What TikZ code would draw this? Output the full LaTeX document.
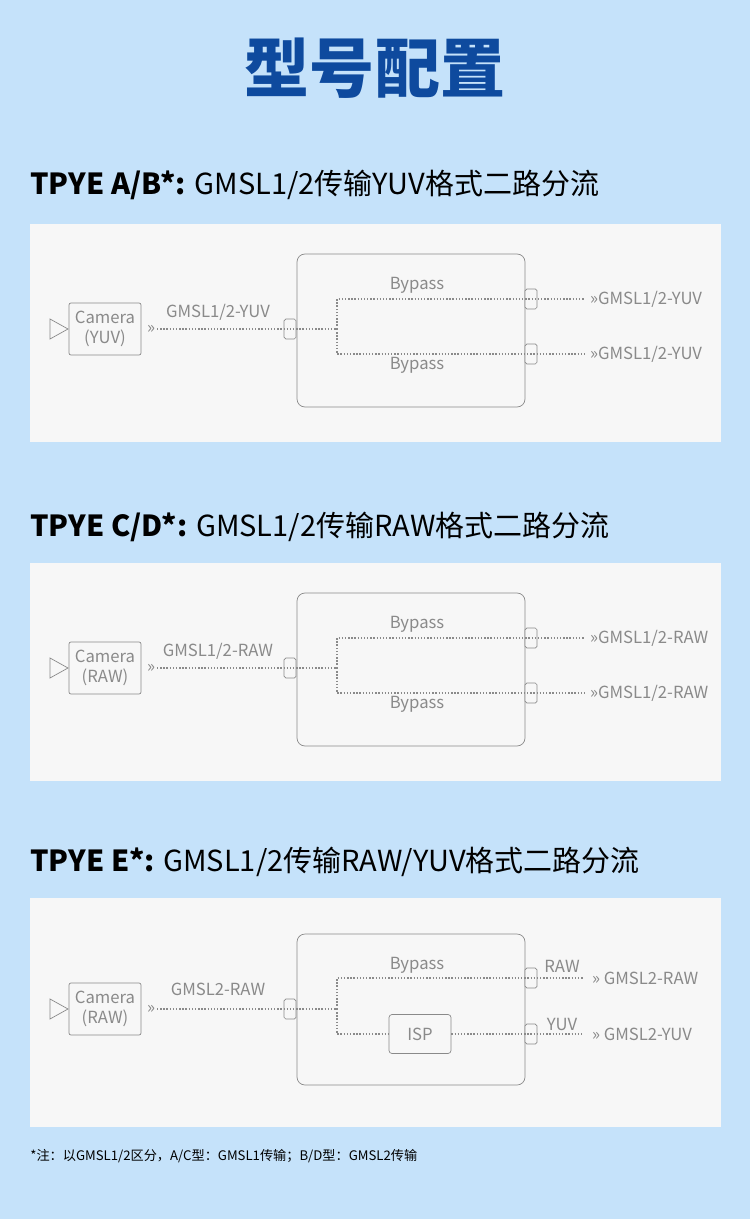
\documentclass[tikz,border=0pt]{standalone}
\usepackage{fontspec}
\setmainfont{Noto Sans CJK SC}
\usetikzlibrary{positioning}
\definecolor{bgblue}{HTML}{C5E2FA}
\definecolor{titleblue}{HTML}{0E4A9E}
\definecolor{panelgray}{HTML}{F7F7F7}
\definecolor{linegray}{HTML}{8A8A8A}
\tikzset{
  lbl/.style={text=linegray,font=\fontsize{9.5}{11}\selectfont,inner sep=1pt},
  sig/.style={draw=linegray,densely dotted,thick},
  port/.style={draw=linegray,fill=panelgray,rounded corners=1pt,minimum width=12\pxu,minimum height=20\pxu,inner sep=0pt},
  head/.style={anchor=west,font=\fontsize{16.5}{20}\selectfont,inner sep=0pt}
}
\newlength\pxu \setlength\pxu{0.02cm}
% one panel: y offset, camera text, input label, labels of the two outputs
\newcommand\splitpanel[5]{%
\begin{scope}[shift={(0,#1)}]
  \fill[panelgray] (30,220) rectangle (721,438);
  \draw[linegray,rounded corners=8\pxu] (297,250) rectangle (525,403);
  \node[draw=linegray,rounded corners=2\pxu,minimum width=72\pxu,minimum height=52\pxu,inner sep=0pt,align=center,lbl,font=\fontsize{9.5}{11}\selectfont] (cam#1) at (105,325) {Camera\\(#2)};
  \draw[linegray] (68,325) -- (50,315) -- (50,335) -- cycle;
  \node[port] (in#1) at (290,325) {};
  \node[port] (outa#1) at (531,295) {};
  \node[port] (outb#1) at (531,350) {};
  \coordinate (br#1) at (337,325);
  \coordinate (ea#1) at (585,295);
  \coordinate (eb#1) at (585,350);
  \node[lbl,anchor=west] at (145,325) {»};
  \node[lbl] at (218,308) {#3};
  \draw[sig] (157,325) -- (in#1.center) -- (br#1);
  \draw[sig] (br#1) |- (outa#1.center) -- (ea#1);
  \draw[sig] (br#1) |- (outb#1.center) -- (eb#1);
  \node[lbl] at (417,281) {Bypass};
  \node[lbl] at (417,361) {Bypass};
  \node[lbl,anchor=west] at (588,295) {»#4};
  \node[lbl,anchor=west] at (588,350) {»#5};
\end{scope}}
\begin{document}
\begin{tikzpicture}[x=0.02cm,y=-0.02cm]
\fill[bgblue] (0,0) rectangle (750,1219);
\node[text=titleblue,font=\fontsize{37}{42}\bfseries\selectfont] at (375,68) {型号配置};
\node[head] at (30,185) {\textbf{TPYE A/B*:} GMSL1/2传输YUV格式二路分流};
\node[head] at (30,527) {\textbf{TPYE C/D*:} GMSL1/2传输RAW格式二路分流};
\node[head] at (30,862) {\textbf{TPYE E*:} GMSL1/2传输RAW/YUV格式二路分流};
\splitpanel{4}{YUV}{GMSL1/2-YUV}{GMSL1/2-YUV}{GMSL1/2-YUV}
\splitpanel{343}{RAW}{GMSL1/2-RAW}{GMSL1/2-RAW}{GMSL1/2-RAW}
% third panel: bypass and ISP
\begin{scope}[shift={(0,684)}]
  \fill[panelgray] (30,214) rectangle (721,443);
  \draw[linegray,rounded corners=8\pxu] (297,250) rectangle (525,401);
  \node[draw=linegray,rounded corners=2\pxu,minimum width=72\pxu,minimum height=52\pxu,inner sep=0pt,align=center,lbl,font=\fontsize{9.5}{11}\selectfont] (camE) at (105,325) {Camera\\(RAW)};
  \draw[linegray] (68,325) -- (50,315) -- (50,335) -- cycle;
  \node[port] (inE) at (290,325) {};
  \node[port] (outaE) at (531,294) {};
  \node[port] (outbE) at (531,350) {};
  \node[draw=linegray,fill=panelgray,rounded corners=3\pxu,minimum width=62\pxu,minimum height=39\pxu,lbl] (isp) at (420,350) {ISP};
  \coordinate (brE) at (337,325);
  \coordinate (eaE) at (583,294);
  \coordinate (ebE) at (583,350);
  \node[lbl,anchor=west] at (145,325) {»};
  \node[lbl] at (218,305) {GMSL2-RAW};
  \draw[sig] (157,325) -- (inE.center) -- (brE);
  \draw[sig] (brE) |- (outaE.center) -- (eaE);
  \draw[sig] (brE) |- (isp.west);
  \draw[sig] (isp.east) -- (outbE.center) -- (ebE);
  \node[lbl] at (417,281) {Bypass};
  \node[lbl] at (562,282) {RAW};
  \node[lbl] at (562,340) {YUV};
  \node[lbl,anchor=west] at (590,294) {»\ GMSL2-RAW};
  \node[lbl,anchor=west] at (590,350) {»\ GMSL2-YUV};
\end{scope}
\node[anchor=west,inner sep=0pt,font=\fontsize{7.5}{9}\selectfont] at (30,1156) {*注：以GMSL1/2区分，A/C型：GMSL1传输；B/D型：GMSL2传输};
\end{tikzpicture}
\end{document}
